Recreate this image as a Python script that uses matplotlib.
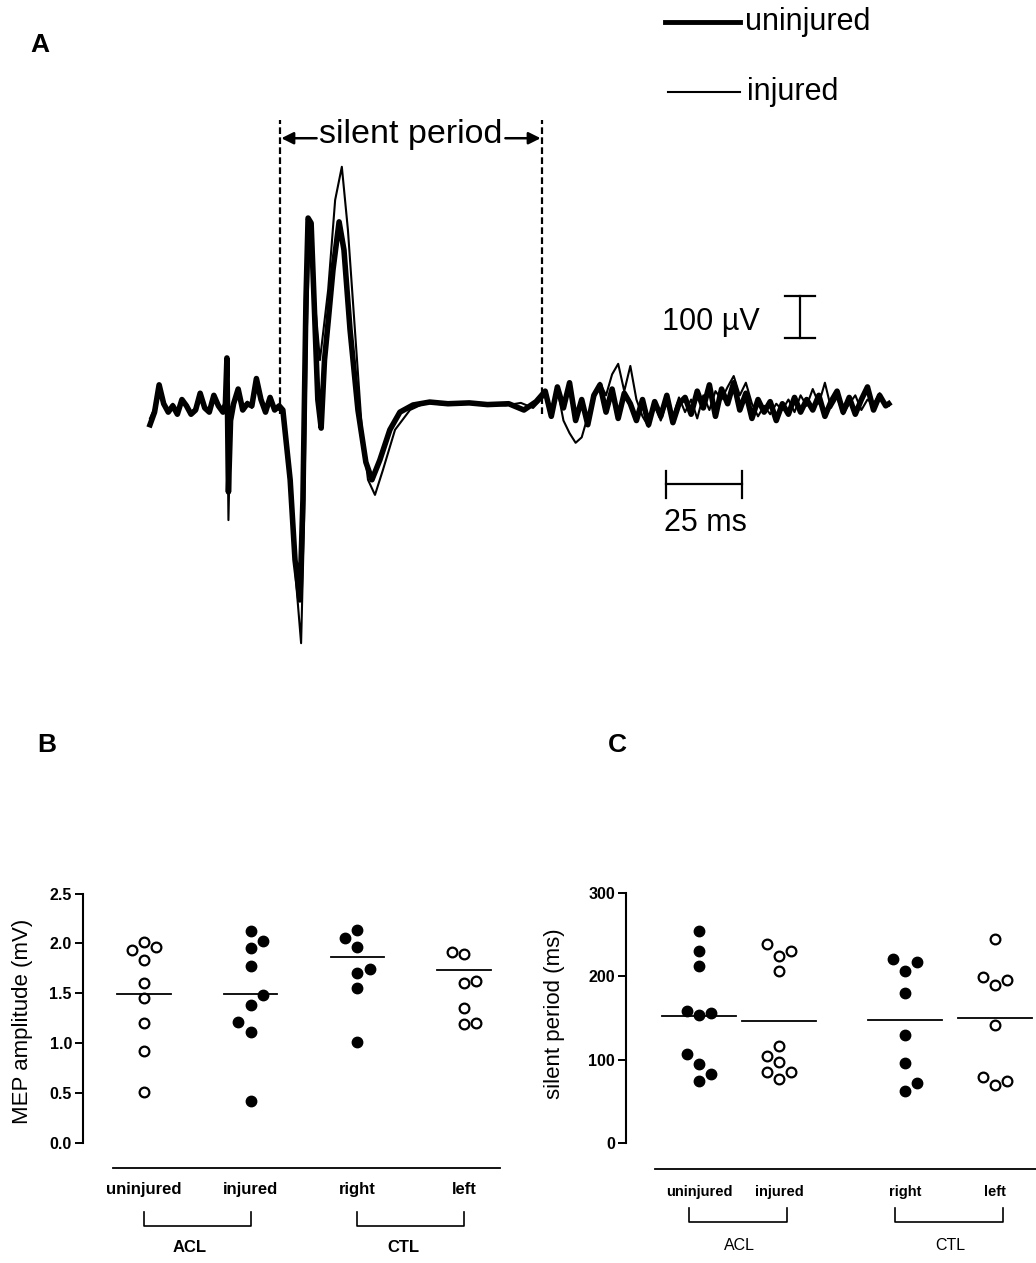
import numpy as np
import matplotlib
matplotlib.use("Agg")
import matplotlib.pyplot as plt
from matplotlib.lines import Line2D

plt.rcParams["font.family"] = ["Liberation Sans", "DejaVu Sans"]

# ---- panel A: MEP traces, (time ms, amplitude uV) ----
uninjured_trace = [
    (0, -40), (1.5, -10), (3, 55), (4.5, 10), (6, -10), (7.5, 5), (9, -15), (10.5, 20),
    (12, 5), (13.5, -15), (15, -5), (16.5, 35), (18, 0), (19.5, -10), (21, 30), (22.5, 5),
    (24, -10), (24.8, 10), (25.3, 119), (25.8, -200), (26.5, -30), (27.5, 10), (29, 45),
    (30.5, -5), (32, 10), (33.5, 5), (35, 70), (36.5, 20), (38, -10), (39.5, 25), (41, -5),
    (42.5, 5),
    (43.7, -5), (46.1, -171), (47.7, -362), (49.3, -457), (50.3, -219), (51.3, 257),
    (52.0, 452), (53.0, 440), (54.0, 250), (55.2, 20), (56.3, -48), (57.4, 114), (58.6, 205),
    (60.2, 329), (62.2, 443), (63.8, 376), (65.8, 186), (68.4, -5), (71.0, -129), (73.0, -171),
    (75.6, -124), (78.9, -52), (82.2, -10), (86.5, 7), (92, 14), (98, 10), (105, 12),
    (111, 8), (118, 10), (123, -5), (127, 15),
    (130, 40), (132, -20), (134, 50), (136, 0), (138, 60), (140, -30), (142, 20), (144, -40),
    (146, 30), (148, 55), (150, -10), (152, 45), (154, -25), (156, 35), (158, 10), (160, -30),
    (162, 20), (164, -40), (166, 15), (168, -20), (170, 30), (172, -35), (174, 10), (176, 25),
    (178, -15), (180, 40), (182, 0), (184, 55), (186, -20), (188, 45), (190, 10), (192, 60),
    (194, -5), (196, 35), (198, -25), (200, 20), (202, -10), (204, 15), (206, -30), (208, 10),
    (210, -15), (212, 25), (214, -10), (216, 20), (218, -5), (220, 30), (222, -20), (224, 15),
    (226, 40), (228, -10), (230, 25), (232, -15), (234, 20), (236, 50), (238, -5), (240, 30),
    (242, 5), (243, 10),
]

injured_trace = [
    (0, -25), (1.5, 0), (3, 40), (4.5, 15), (6, -5), (7.5, 10), (9, -10), (10.5, 15),
    (12, 10), (13.5, -10), (15, 0), (16.5, 25), (18, 5), (19.5, -5), (21, 25), (22.5, 10),
    (24, -5), (24.8, 5), (25.3, 100), (25.8, -267), (26.5, -20), (27.5, 5), (29, 35),
    (30.5, 0), (32, 15), (33.5, 0), (35, 55), (36.5, 15), (38, -5), (39.5, 20), (41, 0),
    (42.5, -5),
    (43.7, -5), (46.1, -195), (48.0, -410), (49.7, -560), (50.7, -267), (51.6, 186),
    (52.6, 436), (53.9, 281), (55.9, 114), (58.6, 281), (60.9, 495), (63.1, 574), (65.1, 424),
    (67.4, 186), (69.7, -52), (71.7, -171), (74.0, -207), (76.6, -148), (80.6, -52),
    (85.5, -5), (90.5, 12), (97, 8), (104, 14), (110, 10), (117, 6), (122, 12), (126, 0),
    (130, 30), (132, 0), (134, 45), (136, -30), (138, -60), (140, -83), (142, -70), (144, -20),
    (146, 20), (148, 60), (150, 30), (152, 80), (154, 105), (156, 40), (158, 100), (160, 20),
    (162, -20), (164, -45), (166, 10), (168, -30), (170, 15), (172, -20), (174, 25), (176, -10),
    (178, 20), (180, -25), (182, 30), (184, -5), (186, 40), (188, 20), (190, 50), (192, 76),
    (194, 30), (196, 60), (198, 10), (200, -20), (202, 5), (204, -15), (206, 10), (208, -5),
    (210, 20), (212, -10), (214, 30), (216, 5), (218, 45), (220, 10), (222, 60), (224, 0),
    (226, 25), (228, -15), (230, 10), (232, 30), (234, -5), (236, 20), (238, 10), (240, 35),
    (242, 5), (243, 5),
]

silent_start = 42.8
silent_end = 128.9

# ---- panel B: MEP amplitude (mV) ----
categories = ["uninjured", "injured", "right", "left"]
mep_values = [
    [1.93, 2.01, 1.96, 1.83, 1.60, 1.45, 1.20, 0.92, 0.51],
    [2.12, 2.02, 1.95, 1.77, 1.48, 1.38, 1.21, 1.11, 0.42],
    [2.13, 2.05, 1.96, 1.74, 1.70, 1.55, 1.01],
    [1.91, 1.89, 1.62, 1.60, 1.35, 1.20, 1.19],
]
mep_columns = [
    [-1, 0, 1, 0, 0, 0, 0, 0, 0],
    [0, 1, 0, 0, 1, 0, -1, 0, 0],
    [0, -1, 0, 1, 0, 0, 0],
    [-1, 0, 1, 0, 0, 1, 0],
]
mep_means = [1.49, 1.49, 1.86, 1.73]

# ---- panel C: silent period (ms) ----
sp_values = [
    [255, 230, 212, 158, 156, 154, 107, 95, 83, 75],
    [239, 231, 224, 207, 117, 105, 97, 85, 85, 77],
    [221, 217, 207, 180, 130, 96, 72, 63],
    [245, 199, 196, 190, 142, 79, 75, 70],
]
sp_columns = [
    [0, 0, 0, -1, 1, 0, -1, 0, 1, 0],
    [-1, 1, 0, 0, 0, -1, 0, -1, 1, 0],
    [-1, 1, 0, 0, 0, 0, 1, 0],
    [0, -1, 1, 0, 0, -1, 1, 0],
]
sp_means = [153, 147, 148, 150]

# filled markers: B uninjured open, injured filled, right filled, left open
mep_filled = [False, True, True, False]
sp_filled = [True, False, True, False]

W, H = 1036, 1263


def fpos(x0, y0, x1, y1):
    return [x0 / W, 1 - y1 / H, (x1 - x0) / W, (y1 - y0) / H]


def dot_panel(ax, xpos, values, columns, means, filled, step, half):
    for x, vals, cols, m, f in zip(xpos, values, columns, means, filled):
        xs = [x + c * step for c in cols]
        if f:
            ax.plot(xs, vals, "o", ms=7.5, color="k", ls="none")
        else:
            ax.plot(xs, vals, "o", ms=7, mfc="white", mec="k", mew=1.6, ls="none")
        ax.plot([x - half, x + half], [m, m], color="k", lw=1.3)


def style_axis(ax, top):
    for side in ["top", "right", "bottom"]:
        ax.spines[side].set_visible(False)
    ax.spines["left"].set_bounds(0, top)
    ax.spines["left"].set_linewidth(1.5)
    ax.set_xticks([])
    ax.tick_params(axis="y", length=6, width=1.4, pad=2, labelsize=11.5)
    for lbl in ax.get_yticklabels():
        lbl.set_fontweight("bold")


fig = plt.figure(figsize=(10.36, 12.63), dpi=100)

# ---------------- panel A ----------------
axA = fig.add_axes(fpos(140, 100, 900, 660))
axA.set_xlim(-3.29, 246.7)
axA.set_ylim(-600, 733)
axA.axis("off")

ut, uv = np.array(uninjured_trace).T
it, iv = np.array(injured_trace).T
axA.plot(ut, uv, color="k", lw=4, solid_joinstyle="round")
axA.plot(it, iv, color="k", lw=1.5)

axA.vlines([silent_start, silent_end], -15, 686, colors="k",
           linestyles=(0, (3, 1.5)), lw=1.6)
axA.text((silent_start + silent_end) / 2, 650, "silent period", ha="center",
         va="center", fontsize=24.5)
arrow = dict(arrowstyle="-|>", lw=1.8, color="k", mutation_scale=18, shrinkA=0, shrinkB=0)
axA.annotate("", xy=(silent_start + 0.4, 642), xytext=(silent_start + 12, 642), arrowprops=arrow)
axA.annotate("", xy=(silent_end - 0.4, 642), xytext=(silent_end - 12, 642), arrowprops=arrow)

# scale bars
axA.plot([213.8, 213.8], [166.7, 266.7], color="k", lw=1.6)
axA.plot([209.0, 218.6], [266.7, 266.7], color="k", lw=1.6)
axA.plot([209.0, 218.6], [166.7, 166.7], color="k", lw=1.6)
axA.text(168.3, 205, "100 µV", ha="left", va="center", fontsize=22)
axA.plot([169.7, 194.7], [-182, -182], color="k", lw=1.6)
axA.plot([169.7, 169.7], [-215, -149], color="k", lw=1.6)
axA.plot([194.7, 194.7], [-215, -149], color="k", lw=1.6)
axA.text(169.0, -274, "25 ms", ha="left", va="center", fontsize=22)

# legend
fig.add_artist(Line2D([665 / W, 740 / W], [1 - 22 / H] * 2, color="k", lw=3.5))
fig.add_artist(Line2D([668 / W, 740 / W], [1 - 92 / H] * 2, color="k", lw=1.5))
fig.text(745 / W, 1 - 22 / H, "uninjured", ha="left", va="center", fontsize=22)
fig.text(747 / W, 1 - 92 / H, "injured", ha="left", va="center", fontsize=22)

# panel letters
fig.text(40 / W, 1 - 45 / H, "A", ha="center", va="center", fontsize=19, fontweight="bold")
fig.text(47 / W, 1 - 745 / H, "B", ha="center", va="center", fontsize=19, fontweight="bold")
fig.text(617 / W, 1 - 745 / H, "C", ha="center", va="center", fontsize=19, fontweight="bold")

# ---------------- panel B ----------------
axB = fig.add_axes(fpos(83, 880, 520, 1260))
axB.set_xlim(0.428, 4.524)
axB.set_ylim(-1.173, 2.636)
xb = [1, 2, 3, 4]
dot_panel(axB, xb, mep_values, mep_columns, mep_means, mep_filled, 0.115, 0.25)
axB.set_yticks([0, 0.5, 1.0, 1.5, 2.0, 2.5])
axB.set_yticklabels(["0.0", "0.5", "1.0", "1.5", "2.0", "2.5"])
style_axis(axB, 2.5)
axB.set_ylabel("MEP amplitude (mV)", fontsize=16)
axB.yaxis.set_label_coords(-0.114, 0.629)
axB.plot([0.71, 4.34], [-0.254, -0.254], color="k", lw=1.3, clip_on=False)
for x, name in zip(xb, categories):
    axB.text(x, -0.466, name, ha="center", va="center", fontsize=12, fontweight="bold")
for x0, x1, grp in [(1, 2, "ACL"), (3, 4, "CTL")]:
    axB.plot([x0, x0, x1, x1], [-0.689, -0.829, -0.829, -0.689], color="k", lw=1.2)
    axB.text((x0 + x1) / 2 - 0.07, -1.049, grp, ha="center", va="center",
             fontsize=12, fontweight="bold")

# ---------------- panel C ----------------
axC = fig.add_axes(fpos(626, 880, 1036, 1260))
axC.set_xlim(0.0875, 5.2125)
axC.set_ylim(-140.4, 315.6)
xc = [1, 2, 3.575, 4.7]
dot_panel(axC, xc, sp_values, sp_columns, sp_means, sp_filled, 0.156, 0.46)
axC.set_yticks([0, 100, 200, 300])
style_axis(axC, 300)
axC.set_ylabel("silent period (ms)", fontsize=16)
axC.yaxis.set_label_coords(-0.149, 0.647)
axC.plot([0.45, 5.21], [-31.2, -31.2], color="k", lw=1.3, clip_on=False)
for x, name in zip(xc, categories):
    axC.text(x, -58.8, name, ha="center", va="center", fontsize=10.5, fontweight="bold")
for x0, x1, grp in [(xc[0], xc[1], "ACL"), (xc[2], xc[3], "CTL")]:
    axC.plot([x0 - 0.12, x0 - 0.12, x1 + 0.1, x1 + 0.1], [-78, -94.8, -94.8, -78],
             color="k", lw=1.2)
    axC.text((x0 + x1) / 2, -123.6, grp, ha="center", va="center", fontsize=11.5)

fig.savefig("out.png", dpi=100)
